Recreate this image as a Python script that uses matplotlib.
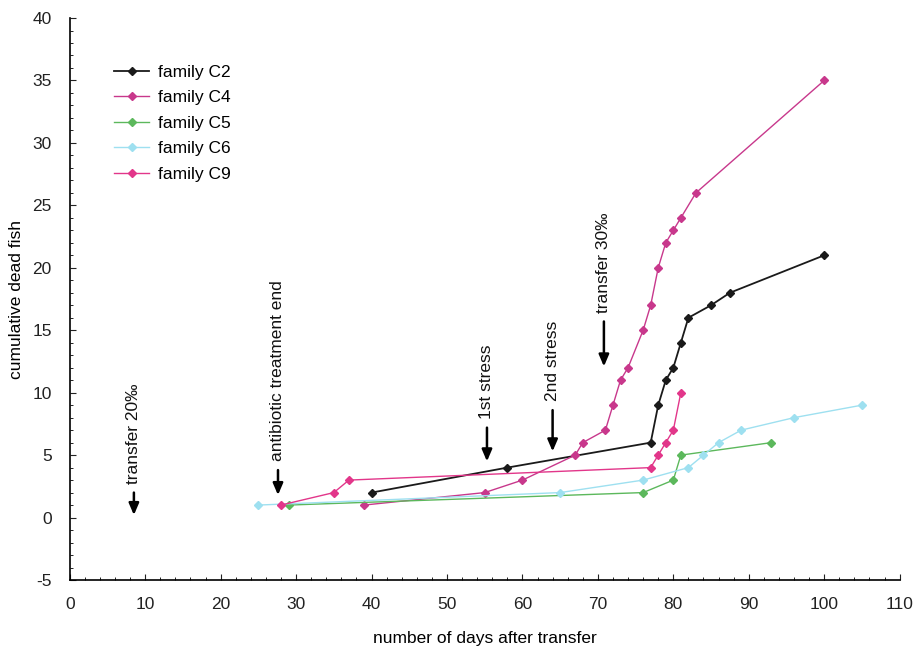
import matplotlib
matplotlib.use("Agg")
import matplotlib.pyplot as plt
from matplotlib.ticker import MultipleLocator

plt.rcParams['font.family'] = ['Liberation Sans', 'DejaVu Sans']
plt.rcParams['axes.unicode_minus'] = False

# Data
c2_x = [40, 58, 77, 78, 79, 80, 81, 82, 85, 87.5, 100]
c2_y = [2, 4, 6, 9, 11, 12, 14, 16, 17, 18, 21]

c4_x = [39, 55, 60, 67, 68, 71, 72, 73, 74, 76, 77, 78, 79, 80, 81, 83, 100]
c4_y = [1, 2, 3, 5, 6, 7, 9, 11, 12, 15, 17, 20, 22, 23, 24, 26, 35]

c5_x = [29, 76, 80, 81, 93]
c5_y = [1, 2, 3, 5, 6]

c6_x = [25, 65, 76, 82, 84, 86, 89, 96, 105]
c6_y = [1, 2, 3, 4, 5, 6, 7, 8, 9]

c9_x = [28, 35, 37, 77, 78, 79, 80, 81]
c9_y = [1, 2, 3, 4, 5, 6, 7, 10]

series_names = ['family C2', 'family C4', 'family C5', 'family C6', 'family C9']
series_colors = ['#1a1a1a', '#c8388c', '#5cb85c', '#9ee0f0', '#e2368a']

events = ['transfer 20‰', 'antibiotic treatment end', '1st stress', '2nd stress', 'transfer 30‰']
event_x = [8.5, 27.6, 55.3, 64.0, 70.8]
event_y0 = [2.0, 3.8, 7.2, 8.6, 15.7]
event_y1 = [0.2, 1.8, 4.5, 5.3, 12.1]

fig = plt.figure(figsize=(9.18, 6.55), dpi=100)
ax = fig.add_axes([0.076, 0.1145, 0.904, 0.858])

xs = [c2_x, c4_x, c5_x, c6_x, c9_x]
ys = [c2_y, c4_y, c5_y, c6_y, c9_y]
for x, y, name, col in zip(xs, ys, series_names, series_colors):
    lw = 1.3 if name == 'family C2' else 1.0
    ax.plot(x, y, color=col, marker='D', markersize=4.5, linewidth=lw, label=name)

for name, ex, y0, y1 in zip(events, event_x, event_y0, event_y1):
    ax.annotate('', xy=(ex, y1), xytext=(ex, y0),
                arrowprops=dict(arrowstyle='-|>,head_length=0.7,head_width=0.3',
                                color='black', lw=1.8, shrinkA=0, shrinkB=0))
    ax.text(ex, y0 + 0.7, name, rotation=90, ha='center', va='bottom',
            fontsize=12.5, color='#111111')

ax.set_xlim(0, 110)
ax.set_ylim(-5, 40)
ax.xaxis.set_major_locator(MultipleLocator(10))
ax.xaxis.set_minor_locator(MultipleLocator(2))
ax.yaxis.set_major_locator(MultipleLocator(5))
ax.yaxis.set_minor_locator(MultipleLocator(1))
ax.spines['top'].set_visible(False)
ax.spines['right'].set_visible(False)
ax.spines['left'].set_linewidth(1.2)
ax.spines['bottom'].set_linewidth(1.2)
ax.tick_params(which='major', direction='in', length=4, labelsize=12.5, colors='#222222')
ax.tick_params(which='minor', direction='in', length=2)
ax.tick_params(axis='x', pad=12)
ax.tick_params(axis='y', pad=13)
ax.set_xlabel('number of days after transfer', fontsize=12.5, labelpad=14)
ax.set_ylabel('cumulative dead fish', fontsize=12.5, labelpad=6)

ax.legend(loc='upper left', bbox_to_anchor=(0.035, 0.945), frameon=False,
          fontsize=12.5, handlelength=2.0, labelspacing=0.6, handletextpad=0.5)

fig.savefig('out.png', dpi=100)
